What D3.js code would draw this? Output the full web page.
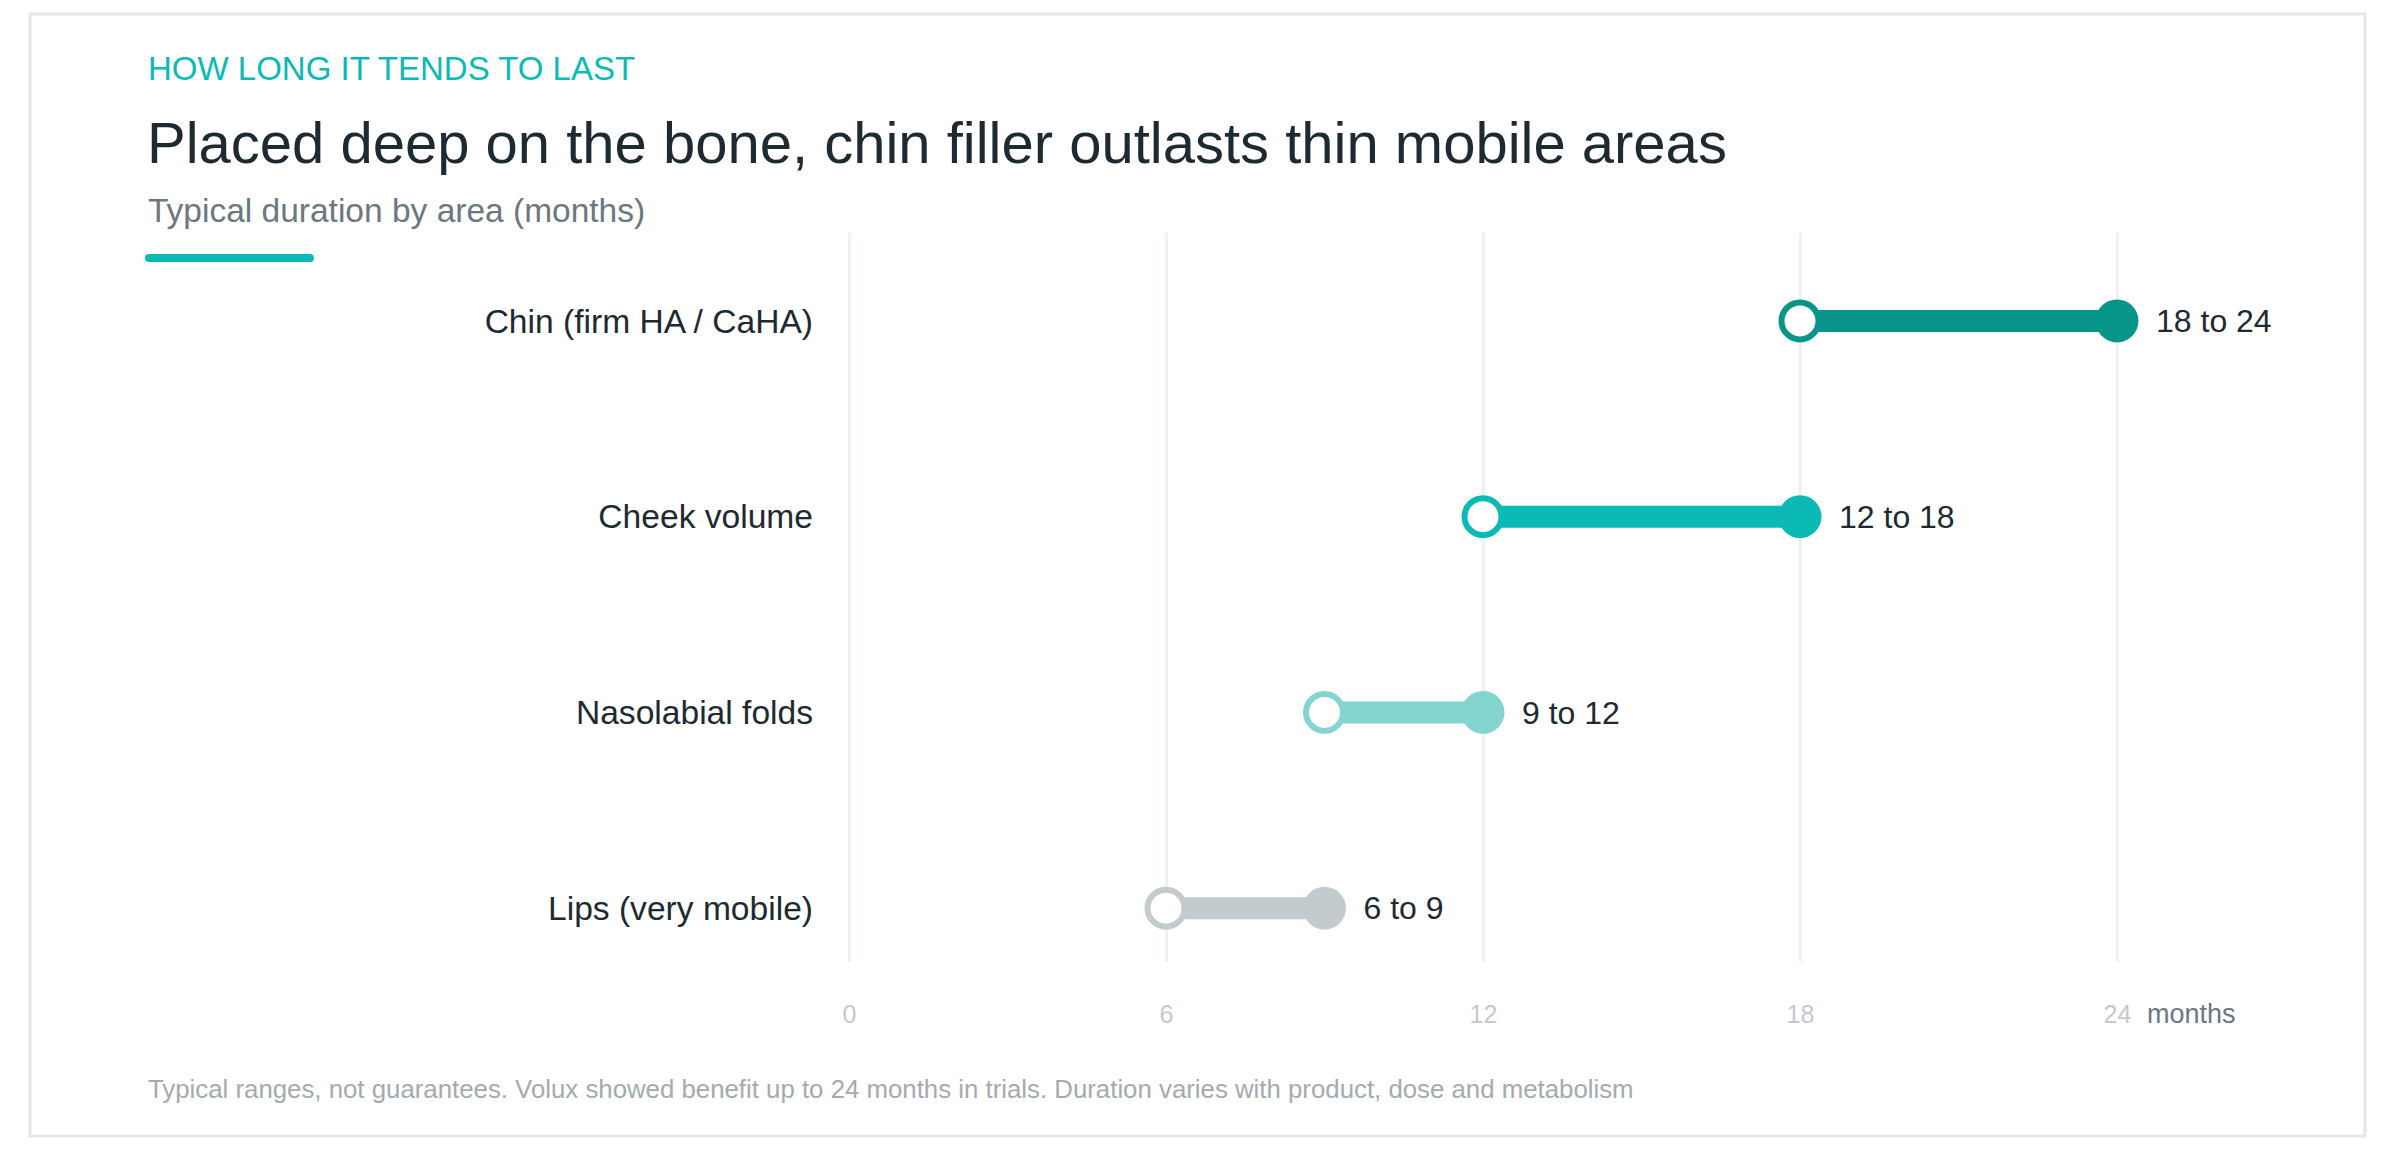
<!DOCTYPE html>
<html>
<head>
<meta charset="utf-8">
<script src="https://cdn.jsdelivr.net/npm/d3@7"></script>
<style>
  html, body { margin: 0; padding: 0; background: #fff; }
  svg { display: block; font-family: "Liberation Sans", Arial, Helvetica, sans-serif; }
</style>
</head>
<body>
<div id="chart"></div>
<script>
document.addEventListener("DOMContentLoaded", () => {

    // Data
    const areas = ["Chin (firm HA / CaHA)", "Cheek volume", "Nasolabial folds", "Lips (very mobile)"];
    const lowMonths = [18, 12, 9, 6];
    const highMonths = [24, 18, 12, 9];
    const tickValues = [0, 6, 12, 18, 24];
    const colors = ["#079589", "#0bbab4", "#84d5cf", "#c4cbce"];

    const W = 2392, H = 1150;
    const rows = areas.map((a, i) => ({ area: a, lo: lowMonths[i], hi: highMonths[i], color: colors[i] }));

    const svg = d3.select("#chart").append("svg")
        .attr("width", W).attr("height", H)
        .attr("viewBox", `0 0 ${W} ${H}`);

    // Card
    svg.append("rect").attr("x", 30).attr("y", 14).attr("width", 2335).attr("height", 1122)
        .attr("fill", "#fff").attr("stroke", "#e3e7ea").attr("stroke-width", 3);

    // Header
    svg.append("text").attr("x", 148).attr("y", 80).attr("font-size", 33).attr("fill", "#0bbab5")
        .text("HOW LONG IT TENDS TO LAST");
    svg.append("text").attr("x", 147).attr("y", 163).attr("font-size", 58).attr("fill", "#1e2a32")
        .text("Placed deep on the bone, chin filler outlasts thin mobile areas");
    svg.append("text").attr("x", 148).attr("y", 222).attr("font-size", 33.5).attr("fill", "#6c7780")
        .text("Typical duration by area (months)");
    svg.append("rect").attr("x", 145).attr("y", 254).attr("width", 169).attr("height", 8).attr("rx", 4)
        .attr("fill", "#0bbab5");

    // Scales
    const x = d3.scaleLinear().domain([0, 24]).range([849, 2117]);
    const y = d3.scaleBand().domain(areas).range([223, 1006]);
    const cy = d => y(d.area) + y.bandwidth() / 2;

    // Grid
    svg.append("g").attr("transform", "translate(0,962)")
        .call(d3.axisBottom(x).tickValues(tickValues).tickSize(-(962 - 233)).tickFormat(""))
        .call(g => g.select(".domain").remove())
        .call(g => g.selectAll(".tick line").attr("stroke", "#eef1f2").attr("stroke-width", 3));

    // Tick labels
    svg.append("g").attr("transform", "translate(0,1005)")
        .call(d3.axisBottom(x).tickValues(tickValues).tickSize(0).tickPadding(0))
        .call(g => g.select(".domain").remove())
        .call(g => g.selectAll(".tick text").attr("font-size", 25).attr("fill", "#c3cacf")
            .attr("font-family", "Liberation Sans, Arial, sans-serif"));

    svg.append("text").attr("x", 2147).attr("y", 1023).attr("font-size", 27).attr("fill", "#6b7780")
        .text("months");

    // Row labels
    svg.append("g").selectAll("text").data(rows).enter().append("text")
        .attr("x", 813).attr("y", cy).attr("dy", "0.35em").attr("text-anchor", "end")
        .attr("font-size", 33.6).attr("fill", "#1e2a32").text(d => d.area);

    // Dumbbells
    const row = svg.append("g").selectAll("g").data(rows).enter().append("g");
    row.append("line")
        .attr("x1", d => x(d.lo)).attr("x2", d => x(d.hi))
        .attr("y1", cy).attr("y2", cy)
        .attr("stroke", d => d.color).attr("stroke-width", 22);
    row.append("circle")
        .attr("cx", d => x(d.hi)).attr("cy", cy).attr("r", 21.5)
        .attr("fill", d => d.color);
    row.append("circle")
        .attr("cx", d => x(d.lo)).attr("cy", cy).attr("r", 18.5)
        .attr("fill", "#fff").attr("stroke", d => d.color).attr("stroke-width", 6);
    row.append("text")
        .attr("x", d => x(d.hi) + 39).attr("y", cy).attr("dy", "0.35em")
        .attr("font-size", 32).attr("fill", "#1e2a32")
        .text(d => `${d.lo} to ${d.hi}`);

    // Footer
    svg.append("text").attr("x", 148).attr("y", 1098).attr("font-size", 25.8).attr("fill", "#a3abb1")
        .text("Typical ranges, not guarantees. Volux showed benefit up to 24 months in trials. Duration varies with product, dose and metabolism");
});
</script>
</body>
</html>
